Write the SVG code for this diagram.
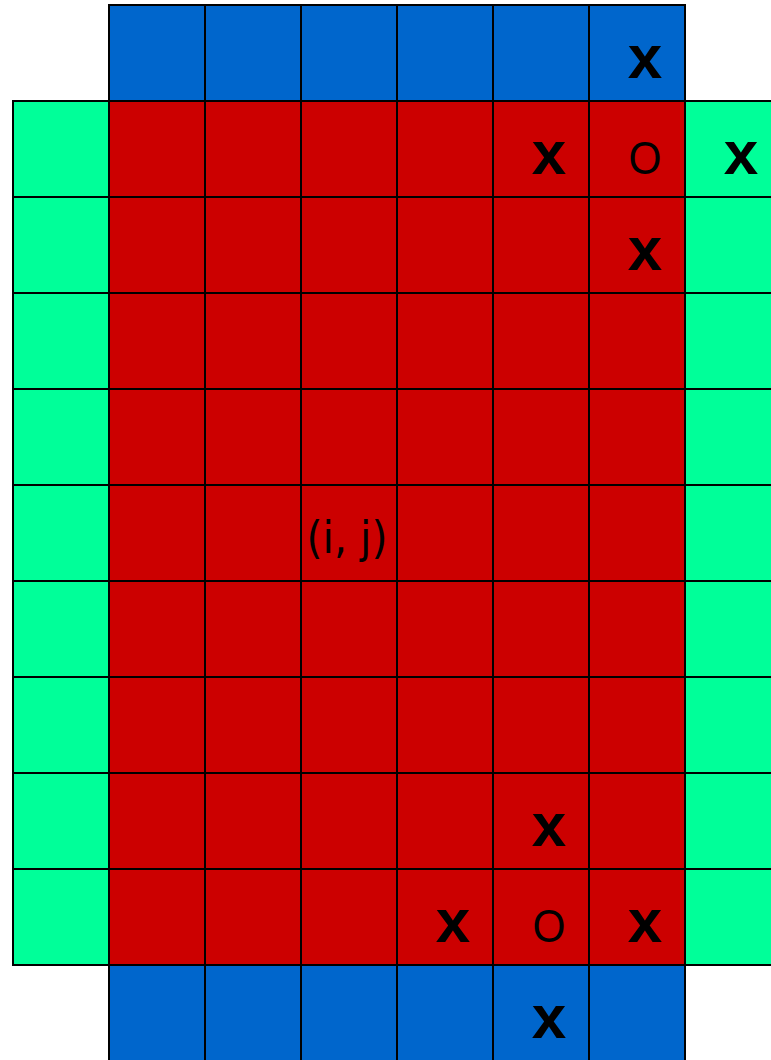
<svg xmlns="http://www.w3.org/2000/svg" width="771" height="1060" viewBox="0 0 771 1060">
<style>
rect{stroke:#000;stroke-width:2}
.b{fill:#0066CC}.r{fill:#CC0000}.g{fill:#00FF99}
.x{font-family:"Liberation Sans",Arial,sans-serif;font-weight:bold;font-size:62px;text-anchor:middle;fill:#000}
.o{font-family:"Liberation Sans",Arial,sans-serif;font-size:47px;text-anchor:middle;fill:#000}
.ij{font-family:"DejaVu Sans",sans-serif;font-size:45px;text-anchor:middle;fill:#000}
</style>
<rect width="771" height="1060" fill="#fff" style="stroke:none"/>
<g id="top-blue">
<rect class="b" x="109" y="5" width="96" height="96"/><rect class="b" x="205" y="5" width="96" height="96"/><rect class="b" x="301" y="5" width="96" height="96"/><rect class="b" x="397" y="5" width="96" height="96"/><rect class="b" x="493" y="5" width="96" height="96"/><rect class="b" x="589" y="5" width="96" height="96"/>
</g>
<g id="left-green">
<rect class="g" x="13" y="101" width="96" height="96"/><rect class="g" x="13" y="197" width="96" height="96"/><rect class="g" x="13" y="293" width="96" height="96"/><rect class="g" x="13" y="389" width="96" height="96"/><rect class="g" x="13" y="485" width="96" height="96"/><rect class="g" x="13" y="581" width="96" height="96"/><rect class="g" x="13" y="677" width="96" height="96"/><rect class="g" x="13" y="773" width="96" height="96"/><rect class="g" x="13" y="869" width="96" height="96"/>
</g>
<g id="right-green">
<rect class="g" x="685" y="101" width="96" height="96"/><rect class="g" x="685" y="197" width="96" height="96"/><rect class="g" x="685" y="293" width="96" height="96"/><rect class="g" x="685" y="389" width="96" height="96"/><rect class="g" x="685" y="485" width="96" height="96"/><rect class="g" x="685" y="581" width="96" height="96"/><rect class="g" x="685" y="677" width="96" height="96"/><rect class="g" x="685" y="773" width="96" height="96"/><rect class="g" x="685" y="869" width="96" height="96"/>
</g>
<g id="red-grid">
<rect class="r" x="109" y="101" width="576" height="864"/>
<path d="M205 101V965M301 101V965M397 101V965M493 101V965M589 101V965M109 197H685M109 293H685M109 389H685M109 485H685M109 581H685M109 677H685M109 773H685M109 869H685" stroke="#000" stroke-width="2" fill="none"/>
</g>
<g id="bottom-blue">
<rect class="b" x="109" y="965" width="96" height="96"/><rect class="b" x="205" y="965" width="96" height="96"/><rect class="b" x="301" y="965" width="96" height="96"/><rect class="b" x="397" y="965" width="96" height="96"/><rect class="b" x="493" y="965" width="96" height="96"/><rect class="b" x="589" y="965" width="96" height="96"/>
</g>
<g id="labels">
<text class="x" x="645" y="78">x</text>
<text class="x" x="549" y="174">x</text>
<text class="o" x="645" y="174" textLength="33" lengthAdjust="spacingAndGlyphs">O</text>
<text class="x" x="741" y="174">x</text>
<text class="x" x="645" y="270">x</text>
<text class="ij" x="347" y="553" textLength="81" lengthAdjust="spacingAndGlyphs">(i, j)</text>
<text class="x" x="549" y="846">x</text>
<text class="x" x="453" y="942">x</text>
<text class="o" x="549" y="942" textLength="33" lengthAdjust="spacingAndGlyphs">O</text>
<text class="x" x="645" y="942">x</text>
<text class="x" x="549" y="1038">x</text>
</g>
</svg>
